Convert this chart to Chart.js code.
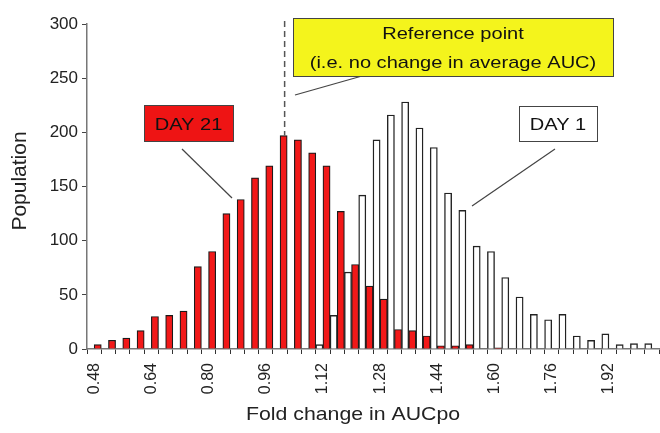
<!DOCTYPE html>
<html>
<head>
<meta charset="utf-8">
<script src="https://cdn.jsdelivr.net/npm/chart.js@4"></script>
<style>
  body { margin: 0; background: #fff; }
  #wrap { width: 660px; height: 433px; }
</style>
</head>
<body>
<div id="wrap"><canvas id="histChart"></canvas></div>
<script>
// bins of fold change (width 0.04)
const binLabels = ['0.48','0.52','0.56','0.60','0.64','0.68','0.72','0.76','0.80','0.84',
  '0.88','0.92','0.96','1.00','1.04','1.08','1.12','1.16','1.20','1.24',
  '1.28','1.32','1.36','1.40','1.44','1.48','1.52','1.56','1.60','1.64',
  '1.68','1.72','1.76','1.80','1.84','1.88','1.92','1.96','2.00','2.04'];
const shownTicks = ['0.48','0.64','0.80','0.96','1.12','1.28','1.44','1.60','1.76','1.92'];
const day1 = [0,0,0,0,0,0,0,0,0,0,0,0,0,0,0,0,
  4,31,71,142,193,216,228,204,186,144,128,95,90,66,48,32,27,32,12,8,14,4,5,5];
const day21 = [4,8,10,17,30,31,35,76,90,125,138,158,169,197,193,181,169,127,78,58,
  46,18,17,12,3,3,4,0,1,0,0,0,0,0,0,0,0,0,0,0];
const yTicks = [0, 50, 100, 150, 200, 250, 300];
const refLabel = '1.00';

const FONT = '"Liberation Sans", Arial, Helvetica, sans-serif';
const STRETCH = 1.18; // the original text looks a bit wide

function text(ctx, t, x, y, size, sx) {
  ctx.save();
  ctx.translate(x, y);
  ctx.scale(sx, 1);
  ctx.font = size + 'px ' + FONT;
  ctx.textAlign = 'center';
  ctx.textBaseline = 'middle';
  ctx.fillText(t, 0, 0);
  ctx.restore();
}

function box(ctx, x, y, w, h, fill, lines, size) {
  ctx.fillStyle = fill;
  ctx.fillRect(x, y, w, h);
  ctx.strokeStyle = '#444';
  ctx.lineWidth = 1;
  ctx.strokeRect(x + 0.5, y + 0.5, w, h);
  ctx.fillStyle = '#111';
  const step = h / lines.length;
  lines.forEach((t, i) => text(ctx, t, x + w / 2, y + step * (i + 0.5) + 2, size, STRETCH));
}

function line(ctx, x1, y1, x2, y2) {
  ctx.beginPath();
  ctx.moveTo(x1, y1);
  ctx.lineTo(x2, y2);
  ctx.stroke();
}

// annotations: dashed reference line, labelled boxes and axis titles
const notes = {
  id: 'notes',
  afterDraw(chart) {
    const ctx = chart.ctx;
    const y = chart.scales.y;
    const refIdx = binLabels.indexOf(refLabel);
    const refBar = chart.getDatasetMeta(1).data[refIdx];

    ctx.save();
    // dashed line at "no change"
    ctx.strokeStyle = '#555';
    ctx.lineWidth = 1.5;
    ctx.setLineDash([6, 4]);
    line(ctx, refBar.x + 1, y.getPixelForValue(300) - 3, refBar.x + 1, y.getPixelForValue(day21[refIdx]));
    ctx.setLineDash([]);

    // pointer lines
    ctx.strokeStyle = '#444';
    ctx.lineWidth = 1.2;
    line(ctx, 362, 76, 295, 95);
    line(ctx, 182, 149, 232, 198);
    line(ctx, 555, 149, 472, 206);

    box(ctx, 293, 18, 320, 58, '#f4f41c', ['Reference point', '(i.e. no change in average AUC)'], 17);
    box(ctx, 144, 105, 89, 36, '#ee1414', ['DAY 21'], 17);
    box(ctx, 519, 106, 78, 35, '#ffffff', ['DAY 1'], 17);

    // axis titles
    ctx.fillStyle = '#222';
    text(ctx, 'Fold change in AUCpo', 353, 415, 19, 1.12);
    ctx.save();
    ctx.translate(20, 181);
    ctx.rotate(-Math.PI / 2);
    text(ctx, 'Population', 0, 0, 21, 1);
    ctx.restore();
    ctx.restore();
  }
};

const ctx = document.getElementById('histChart').getContext('2d');

const histChart = new Chart(ctx, {
  type: 'bar',
  data: {
    labels: binLabels,
    datasets: [{
      label: 'DAY 1',
      data: day1,
      backgroundColor: '#ffffff',
      borderColor: '#222',
      borderWidth: 1.4,
      categoryPercentage: 1,
      barPercentage: 1
    }, {
      label: 'DAY 21',
      data: day21,
      backgroundColor: '#f21818',
      borderColor: '#1a1a1a',
      borderWidth: 1.2,
      categoryPercentage: 1,
      barPercentage: 1
    }]
  },
  options: {
    responsive: true,
    maintainAspectRatio: false,
    animation: false,
    layout: { padding: { left: 0, top: 24, right: 1, bottom: 0 } },
    scales: {
      x: {
        offset: true,
        afterFit: function (scale) {
          scale.height = 84;
          scale.paddingLeft = 0;
          scale.paddingRight = 0;
        },
        grid: {
          offset: true,
          drawOnChartArea: false,
          tickLength: 5,
          tickColor: '#333'
        },
        border: { color: '#777', width: 1.5 },
        ticks: {
          autoSkip: false,
          minRotation: 90,
          maxRotation: 90,
          padding: 9,
          color: '#222',
          font: { family: FONT, size: 16 },
          callback: function (value) {
            const lab = this.getLabelForValue(value);
            return shownTicks.includes(lab) ? lab : '';
          }
        }
      },
      y: {
        min: yTicks[0],
        max: yTicks[yTicks.length - 1],
        afterFit: function (scale) { scale.width = 87; },
        afterBuildTicks: function (scale) {
          scale.ticks = yTicks.map(v => ({ value: v }));
        },
        grid: {
          drawOnChartArea: false,
          tickLength: 5,
          tickColor: '#444'
        },
        border: { color: '#777', width: 1.5 },
        ticks: {
          padding: 4,
          color: '#222',
          font: { family: FONT, size: 17 }
        }
      }
    },
    plugins: {
      legend: { display: false },
      tooltip: { enabled: false }
    }
  },
  plugins: [notes]
});
</script>
</body>
</html>
